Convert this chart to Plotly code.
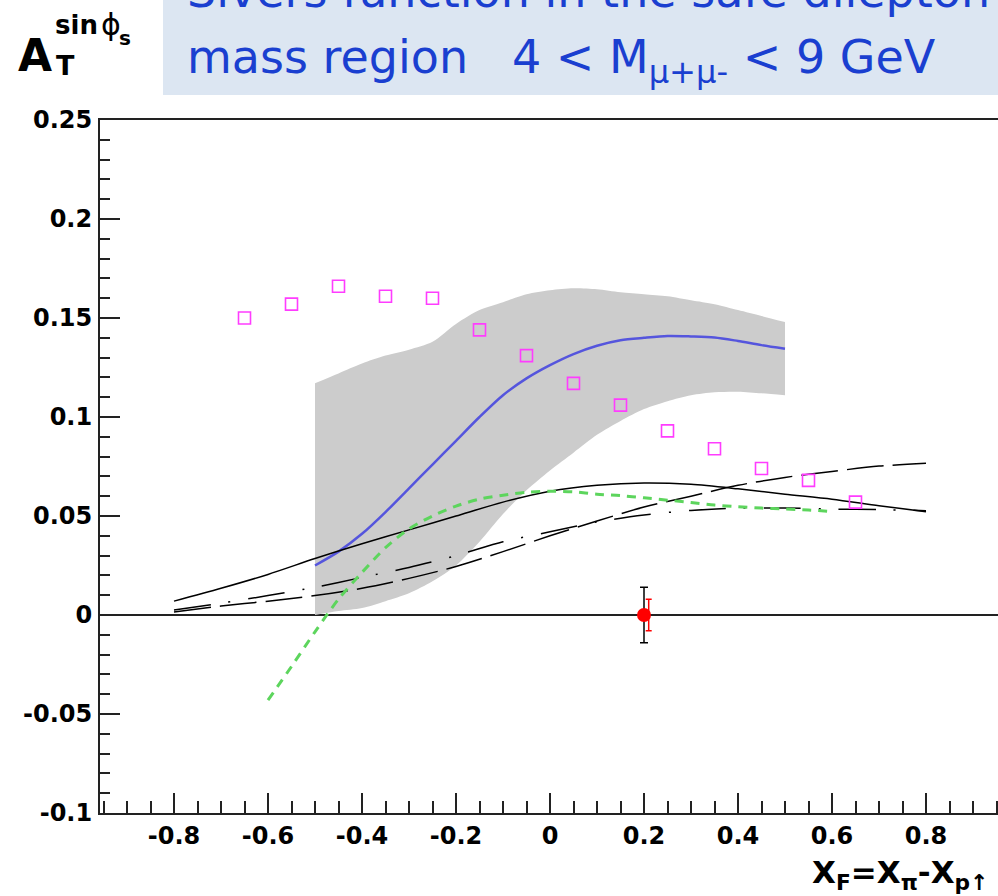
import plotly.graph_objects as go

# ---------------- data ----------------
band_x = [-0.5, -0.45, -0.4, -0.35, -0.3, -0.25, -0.2, -0.15, -0.1, -0.05, 0.0,
          0.05, 0.1, 0.15, 0.2, 0.25, 0.3, 0.35, 0.4, 0.45, 0.5]
band_hi = [0.117, 0.122, 0.127, 0.131, 0.134, 0.138, 0.147, 0.154, 0.158, 0.162, 0.164,
           0.165, 0.1645, 0.163, 0.162, 0.161, 0.159, 0.157, 0.154, 0.151, 0.148]
band_lo = [0.0, 0.002, 0.0035, 0.007, 0.011, 0.017, 0.025, 0.037, 0.051, 0.063, 0.073,
           0.082, 0.091, 0.098, 0.104, 0.108, 0.111, 0.1125, 0.1128, 0.112, 0.111]
blue_y = [0.025, 0.032, 0.041, 0.052, 0.064, 0.076, 0.088, 0.100, 0.111, 0.1195, 0.1262,
          0.1318, 0.136, 0.1388, 0.140, 0.1409, 0.1407, 0.1402, 0.1384, 0.1363, 0.1345]

pink_x = [-0.65, -0.55, -0.45, -0.35, -0.25, -0.15, -0.05, 0.05, 0.15, 0.25, 0.35, 0.45, 0.55, 0.65]
pink_y = [0.150, 0.157, 0.166, 0.161, 0.160, 0.144, 0.131, 0.117, 0.106, 0.093, 0.084, 0.074, 0.068, 0.057]

curve_x = [-0.8, -0.7, -0.6, -0.5, -0.4, -0.3, -0.2, -0.1, 0.0, 0.1, 0.2, 0.3, 0.4, 0.5, 0.6, 0.7, 0.8]
solid_y = [0.007, 0.0135, 0.0205, 0.0285, 0.036, 0.043, 0.050, 0.057, 0.0625, 0.0655, 0.0667,
           0.066, 0.0637, 0.061, 0.0585, 0.0552, 0.0522]
longdash_y = [0.0015, 0.0045, 0.007, 0.0098, 0.0135, 0.0185, 0.0245, 0.032, 0.040, 0.0475, 0.0545,
              0.060, 0.0655, 0.0695, 0.0725, 0.0752, 0.0766]
dashdot_y = [0.0025, 0.006, 0.0098, 0.014, 0.019, 0.024, 0.030, 0.037, 0.042, 0.047, 0.0505,
             0.0528, 0.054, 0.054, 0.0535, 0.0532, 0.0527]

green_x = [-0.6, -0.55, -0.5, -0.45, -0.4, -0.35, -0.3, -0.25, -0.2, -0.15, -0.1, -0.05, 0.0,
           0.05, 0.1, 0.15, 0.2, 0.25, 0.3, 0.35, 0.4, 0.45, 0.5, 0.55, 0.6]
green_y = [-0.043, -0.026, -0.0085, 0.008, 0.0215, 0.034, 0.0435, 0.050, 0.055, 0.0585, 0.0605,
           0.062, 0.0625, 0.0622, 0.061, 0.0603, 0.0592, 0.058, 0.0568, 0.0555, 0.0547, 0.054,
           0.0535, 0.053, 0.0523]

point_x = [0.2]
point_y = [0.0]
point_err_total = [0.014]
point_err_stat = [0.008]
stat_bar_x = [0.21]

xtick_vals = [-0.8, -0.6, -0.4, -0.2, 0.0, 0.2, 0.4, 0.6, 0.8]
xtick_text = ["-0.8", "-0.6", "-0.4", "-0.2", "0", "0.2", "0.4", "0.6", "0.8"]
ytick_vals = [-0.1, -0.05, 0.0, 0.05, 0.1, 0.15, 0.2, 0.25]
ytick_text = ["-0.1", "-0.05", "0", "0.05", "0.1", "0.15", "0.2", "0.25"]

# ---------------- figure ----------------
W, H = 998, 896
ML, MR, MT, MB = 100, 0, 120, 83
PW, PH = W - ML - MR, H - MT - MB


def xp(px):
    return (px - ML) / PW


def yp(py):
    return (H - MB - py) / PH


fig = go.Figure()

fig.add_trace(go.Scatter(x=band_x, y=band_lo, mode="lines",
                         line=dict(width=0, shape="spline", smoothing=0.8), hoverinfo="skip"))
fig.add_trace(go.Scatter(x=band_x, y=band_hi, mode="lines", fill="tonexty",
                         fillcolor="#cccccc",
                         line=dict(width=0, shape="spline", smoothing=0.8), hoverinfo="skip"))

fig.add_trace(go.Scatter(x=band_x, y=blue_y, mode="lines",
                         line=dict(color="#5555dd", width=2.5, shape="spline", smoothing=0.8)))

fig.add_trace(go.Scatter(x=curve_x, y=solid_y, mode="lines",
                         line=dict(color="black", width=1.5, shape="spline", smoothing=0.8)))
fig.add_trace(go.Scatter(x=curve_x, y=longdash_y, mode="lines",
                         line=dict(color="black", width=1.5, dash="37px,9px",
                                   shape="spline", smoothing=0.8)))
fig.add_trace(go.Scatter(x=curve_x, y=dashdot_y, mode="lines",
                         line=dict(color="black", width=1.5, dash="37px,18px,2px,18px",
                                   shape="spline", smoothing=0.8)))

fig.add_trace(go.Scatter(x=green_x, y=green_y, mode="lines",
                         line=dict(color="#5dd55d", width=3, dash="9px,7px",
                                   shape="spline", smoothing=0.8)))

fig.add_trace(go.Scatter(x=pink_x, y=pink_y, mode="markers",
                         marker=dict(symbol="square-open", size=12,
                                     color="#ff3cff", line=dict(width=1.6, color="#ff3cff"))))

fig.add_trace(go.Scatter(
    x=point_x, y=point_y, mode="markers",
    marker=dict(size=1, color="rgba(0,0,0,0)"),
    error_y=dict(type="data", array=point_err_total, color="black", thickness=1.5, width=4)))
fig.add_trace(go.Scatter(x=point_x, y=point_y, mode="markers",
                         marker=dict(size=14, color="red", symbol="circle")))
fig.add_trace(go.Scatter(
    x=stat_bar_x, y=point_y, mode="markers",
    marker=dict(size=1, color="rgba(0,0,0,0)"),
    error_y=dict(type="data", array=point_err_stat, color="red", thickness=1.5, width=3)))

tickfont = dict(family="DejaVu Sans", size=24, color="black", weight="bold")

fig.update_xaxes(
    range=[-450 / 470, 448 / 470],
    tickvals=xtick_vals, ticktext=xtick_text, ticks="inside", ticklen=20,
    tickwidth=1.5, tickcolor="#222", tickfont=tickfont,
    showline=True, linecolor="#222", linewidth=2, mirror=True,
    showgrid=False, zeroline=False, ticklabelstandoff=0,
    minor=dict(dtick=0.05, tick0=0, ticks="inside", ticklen=12, tickwidth=1.5, tickcolor="#222"))
fig.update_yaxes(
    range=[-0.1, 0.25],
    tickvals=ytick_vals, ticktext=ytick_text, ticks="inside", ticklen=20,
    tickwidth=1.5, tickcolor="#222", tickfont=tickfont,
    showline=True, linecolor="#222", linewidth=2, mirror=False,
    showgrid=False, zeroline=True, zerolinecolor="#222", zerolinewidth=1.5,
    ticklabelstandoff=1,
    minor=dict(dtick=0.01, tick0=0, ticks="inside", ticklen=10, tickwidth=1.5, tickcolor="#222"))

# title box
fig.add_shape(type="rect", xref="paper", yref="paper", x0=xp(163), x1=xp(1010),
              y0=yp(95), y1=yp(-10), fillcolor="#dce6f2", line=dict(width=0), layer="below")

blue_font = dict(family="DejaVu Sans", size=46, color="#1a3fd0")
fig.add_annotation(xref="paper", yref="paper", x=xp(185), y=yp(-9), xanchor="left",
                   yanchor="middle", showarrow=False, font=blue_font,
                   text="Sivers function in the safe dilepton")
fig.add_annotation(xref="paper", yref="paper", x=xp(185), y=yp(60), xanchor="left",
                   yanchor="middle", showarrow=False, font=blue_font,
                   text="mass region\u00a0\u00a0\u00a04 &lt; M<sub>\u03bc+\u03bc-</sub> &lt; 9 GeV")

# y-axis title pieces
fig.add_annotation(xref="paper", yref="paper", x=xp(16), y=yp(56), xanchor="left",
                   yanchor="middle", showarrow=False,
                   font=dict(family="DejaVu Sans", size=44, color="black", weight="bold"),
                   text="A")
fig.add_annotation(xref="paper", yref="paper", x=xp(54), y=yp(66), xanchor="left",
                   yanchor="middle", showarrow=False,
                   font=dict(family="DejaVu Sans", size=27, color="black", weight="bold"),
                   text="T")
fig.add_annotation(xref="paper", yref="paper", x=xp(53), y=yp(25), xanchor="left",
                   yanchor="middle", showarrow=False,
                   font=dict(family="DejaVu Sans", size=26, color="black", weight="bold"),
                   text="sin")
fig.add_annotation(xref="paper", yref="paper", x=xp(99), y=yp(25), xanchor="left",
                   yanchor="middle", showarrow=False,
                   font=dict(family="DejaVu Sans", size=30, color="black"),
                   text="\u03d5")
fig.add_annotation(xref="paper", yref="paper", x=xp(117), y=yp(38), xanchor="left",
                   yanchor="middle", showarrow=False,
                   font=dict(family="DejaVu Sans", size=20, color="black", weight="bold"),
                   text="s")

# x-axis title
fig.add_annotation(xref="paper", yref="paper", x=xp(810), y=yp(874), xanchor="left",
                   yanchor="middle", showarrow=False,
                   font=dict(family="DejaVu Sans", size=31, color="black", weight="bold"),
                   text="X<sub>F</sub>=X<sub>\u03c0</sub>-X<sub>p\u2191</sub>")

fig.update_layout(
    width=W, height=H, margin=dict(l=ML, r=MR, t=MT, b=MB, pad=0),
    plot_bgcolor="white", paper_bgcolor="white", showlegend=False)

fig.write_html("out.html")
